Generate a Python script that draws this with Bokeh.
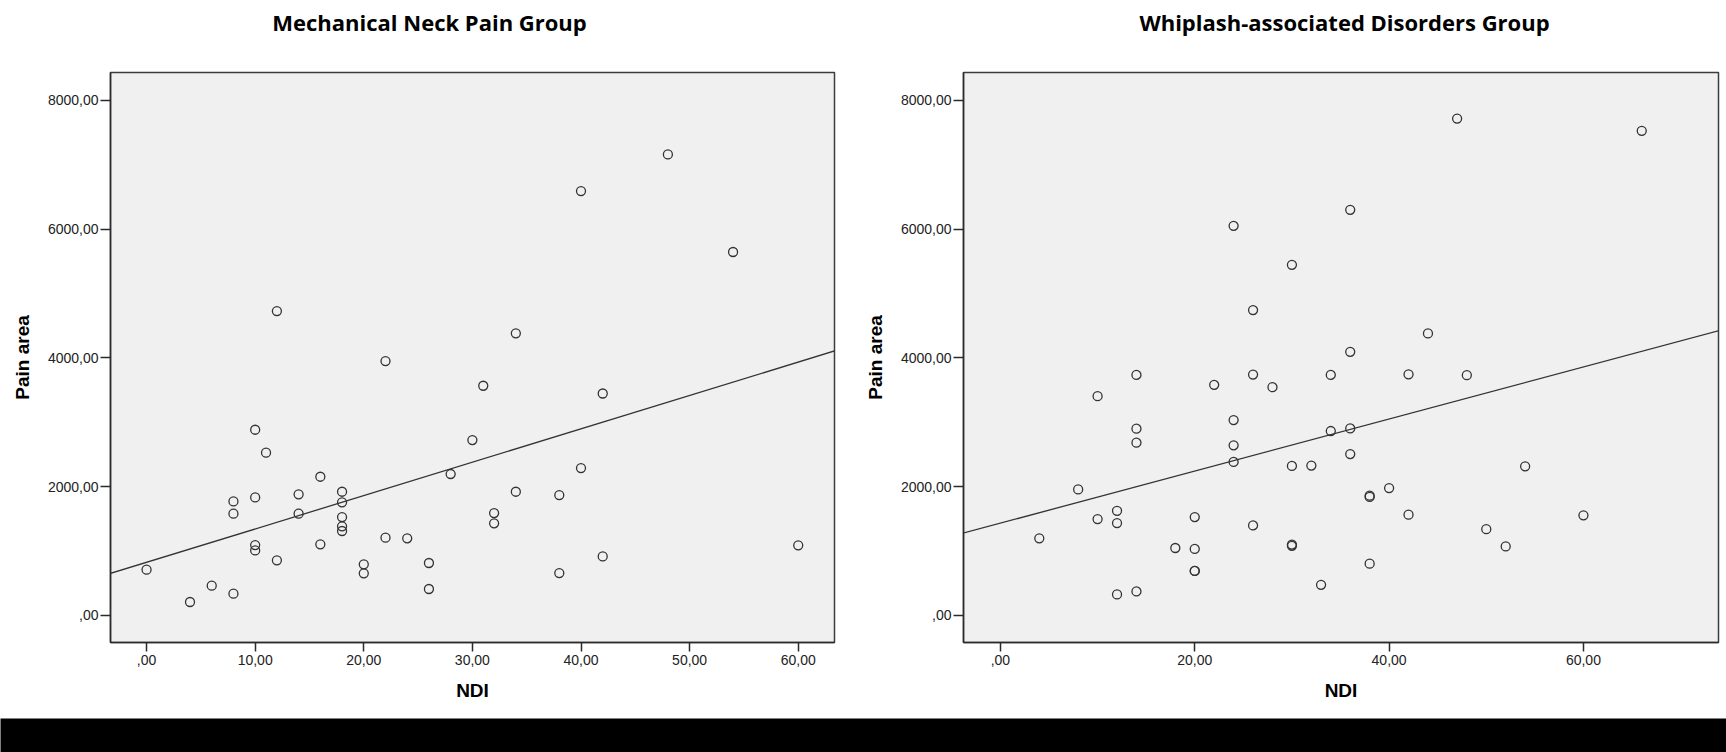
import numpy as np
from bokeh.plotting import figure
from bokeh.models import Range1d, FixedTicker, Slope
from bokeh.core.properties import value
from bokeh.layouts import row, column
from bokeh.embed import file_html
from bokeh.resources import INLINE

# ---------------- data ----------------
mnp_ndi = [0, 4, 6, 8, 8, 8, 10, 10, 10, 10, 11, 12, 12, 14, 14, 16, 16,
           18, 18, 18, 18, 18, 20, 20, 22, 22, 24, 26, 26, 28, 30, 31, 32, 32,
           34, 34, 38, 38, 40, 40, 42, 42, 48, 54, 60]
mnp_area = [710, 208, 462, 337, 1580, 1771, 2884, 1833, 1093, 1010, 2527, 4727, 855,
            1880, 1580, 2154, 1104, 1921, 1756, 1528, 1383, 1311, 793, 653, 3950, 1207,
            1197, 814, 410, 2196, 2724, 3567, 1590, 1430, 4382, 1921, 1869, 658, 6591,
            2288, 3447, 916, 7160, 5645, 1089]

wad_ndi = [4, 8, 10, 10, 12, 12, 12, 14, 14, 14, 14, 18, 20, 20, 20, 20, 22, 24, 24, 24,
           24, 26, 26, 26, 28, 30, 30, 30, 30, 32, 33, 34, 34, 36, 36, 36, 36, 38, 38, 38,
           40, 42, 42, 44, 47, 48, 50, 52, 54, 60, 66]
wad_area = [1197, 1956, 3406, 1496, 1625, 1434, 325, 3736, 2900, 2683, 372, 1047, 1527,
            1032, 691, 691, 3581, 6051, 3034, 2642, 2384, 4742, 3741, 1398, 3545, 5446,
            2322, 1100, 1080, 2327, 475, 3736, 2864, 6300, 4094, 2904, 2506, 1840, 1860,
            804, 1977, 3744, 1565, 4380, 7717, 3731, 1340, 1072, 2315, 1554, 7527]

y_ticks = [0, 2000, 4000, 6000, 8000]
y_tick_labels = [",00", "2000,00", "4000,00", "6000,00", "8000,00"]
mnp_x_ticks = [0, 10, 20, 30, 40, 50, 60]
mnp_x_tick_labels = [",00", "10,00", "20,00", "30,00", "40,00", "50,00", "60,00"]
wad_x_ticks = [0, 20, 40, 60]
wad_x_tick_labels = [",00", "20,00", "40,00", "60,00"]

titles = ["Mechanical Neck Pain Group", "Whiplash-associated Disorders Group"]
x_label = "NDI"
y_label = "Pain area"

# --------------- styling / layout ---------------
FRAME_FILL = "#f0f0f0"
INK = "#2b2b2b"
TICK_FONT = "Liberation Sans"
Y_RANGE = (-421, 8433)
PAGE_W = 1726
STRIP_H = 70                 # header strip holding the two panel titles
TITLE_CENTERS = [429, 1344]  # horizontal title placement (px)
TITLE_MIDDLE = 21            # px from top


def make_panel(ndi, area, xticks, xlabels, xrange_, width, mbl, mbr):
    p = figure(width=width, height=648,
               x_range=Range1d(*xrange_), y_range=Range1d(*Y_RANGE),
               output_backend="svg", toolbar_location=None,
               min_border_left=mbl, min_border_right=mbr,
               min_border_top=2, min_border_bottom=76,
               background_fill_color=FRAME_FILL, border_fill_color="white",
               outline_line_color="#3c3c3c", outline_line_width=1.5)
    p.grid.visible = False

    xa = p.below[0]
    ya = p.left[0]
    for ax in (xa, ya):
        ax.axis_line_color = INK
        ax.axis_line_width = 1.5
        ax.major_tick_line_color = INK
        ax.major_tick_line_width = 1.5
        ax.major_tick_in = 0
        ax.minor_tick_line_color = None
        ax.major_label_text_font = TICK_FONT
        ax.major_label_text_font_size = "14px"
        ax.major_label_text_color = "#222222"
        ax.axis_label_text_font = TICK_FONT
        ax.axis_label_text_font_style = "bold"
        ax.axis_label_text_font_size = "19px"
        ax.axis_label_text_color = "black"

    xa.ticker = FixedTicker(ticks=xticks)
    xa.major_label_overrides = {t: l for t, l in zip(xticks, xlabels)}
    xa.major_tick_out = 9
    xa.major_label_standoff = 3
    xa.axis_label = x_label
    xa.axis_label_standoff = 12

    ya.ticker = FixedTicker(ticks=y_ticks)
    ya.major_label_overrides = {t: l for t, l in zip(y_ticks, y_tick_labels)}
    ya.major_tick_out = 10
    ya.major_label_standoff = 2
    ya.major_label_orientation = "horizontal"
    ya.axis_label = y_label
    ya.axis_label_standoff = 12

    # least-squares fit line computed from the data
    m, b = np.polyfit(np.array(ndi, float), np.array(area, float), 1)
    p.add_layout(Slope(gradient=float(m), y_intercept=float(b),
                       line_color="#333333", line_width=1.3))

    p.scatter(ndi, area, marker="circle", size=9, fill_color=None,
              line_color="#333333", line_width=1.3)
    return p


# header strip with the two titles (pixel-mapped ranges, top = 0)
header = figure(width=PAGE_W, height=STRIP_H, output_backend="svg",
                toolbar_location=None, min_border=0, outline_line_color=None,
                background_fill_color="white", border_fill_color="white",
                x_range=Range1d(0, PAGE_W), y_range=Range1d(STRIP_H, 0))
header.axis.visible = False
header.grid.visible = False
header.text(x=TITLE_CENTERS, y=[TITLE_MIDDLE, TITLE_MIDDLE], text=titles,
            text_font=value("Open Sans"), text_font_style="bold",
            text_font_size="22px", text_color="black",
            text_align="center", text_baseline="middle")

p1 = make_panel(mnp_ndi, mnp_area, mnp_x_ticks, mnp_x_tick_labels, (-3.32, 63.34),
                850, 110, 16)
p2 = make_panel(wad_ndi, wad_area, wad_x_ticks, wad_x_tick_labels, (-3.8, 73.9),
                876, 113, 8)

band = figure(width=PAGE_W, height=34, output_backend="svg", toolbar_location=None,
              background_fill_color="black", border_fill_color="black",
              outline_line_color=None, min_border=0,
              x_range=Range1d(0, 1), y_range=Range1d(0, 1))
band.axis.visible = False
band.grid.visible = False
band.scatter([0.5], [0.5], size=1, alpha=0)

layout = column(header, row(p1, p2), band)
open("out.html", "w").write(file_html(layout, INLINE))
